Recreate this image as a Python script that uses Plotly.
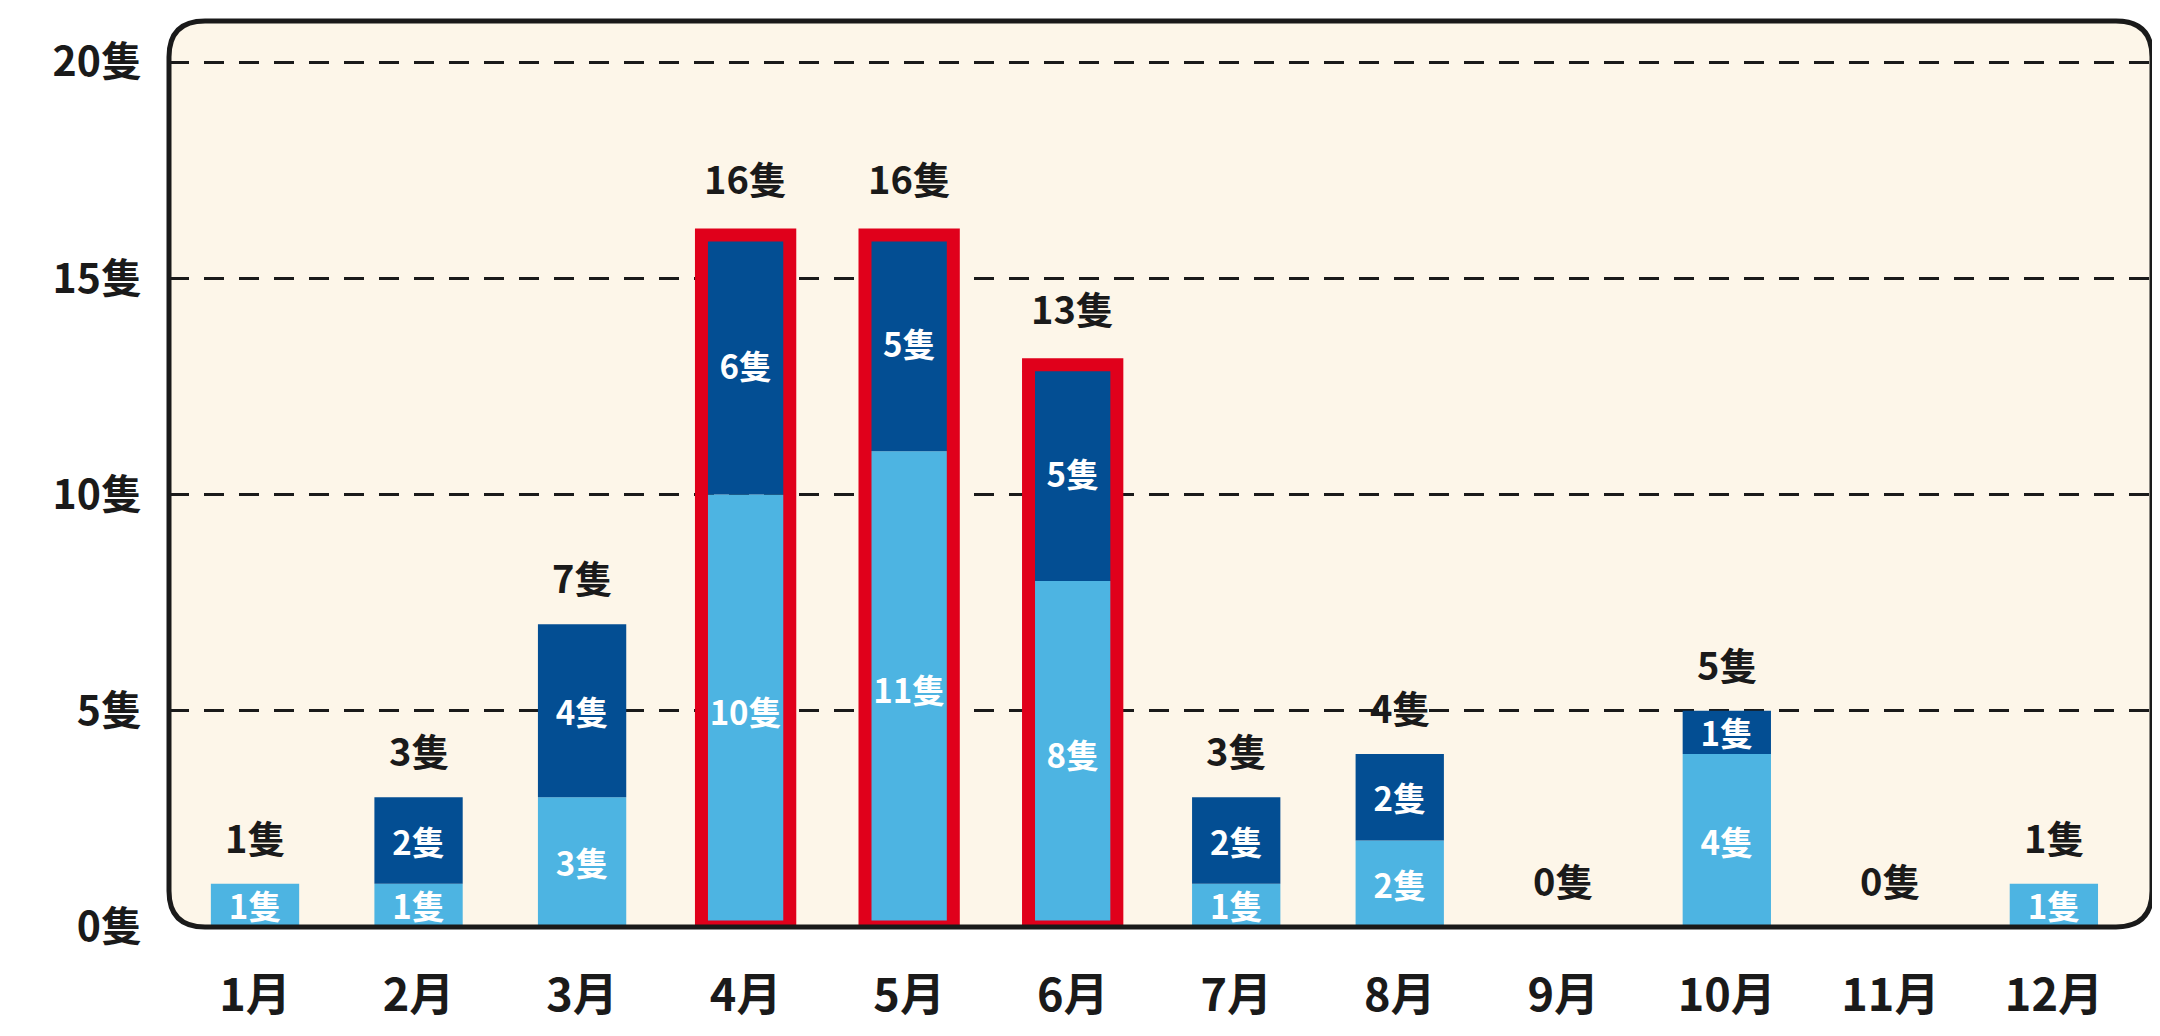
import plotly.graph_objects as go

# ---- data ----
months = ["1月", "2月", "3月", "4月", "5月", "6月", "7月", "8月", "9月", "10月", "11月", "12月"]
light_vals = [1, 1, 3, 10, 11, 8, 1, 2, 0, 4, 0, 1]
dark_vals = [0, 2, 4, 6, 5, 5, 2, 2, 0, 1, 0, 0]
highlight_months = ["4月", "5月", "6月"]
y_tick_vals = [0, 5, 10, 15, 20]
unit = "隻"

totals = [a + b for a, b in zip(light_vals, dark_vals)]
y_tick_text = [f"{v}{unit}" for v in y_tick_vals]

# ---- style ----
FONT = "Noto Sans CJK JP"
LIGHT = "#4DB4E2"
DARK = "#034E93"
RED = "#E0001B"
CREAM = "#FDF6E9"
# page body has an 8px default margin; size the figure to fit inside it
W, H = 2144, 1020
ML, MR, MT, MB = 161, 0, 13, 101

fig = go.Figure()

fig.add_trace(go.Bar(
    x=months, y=light_vals, base=[0] * len(months),
    marker=dict(color=LIGHT, line=dict(width=0)),
    text=[f"{v}{unit}" if v else "" for v in light_vals],
    textposition="inside", insidetextanchor="middle", constraintext="none",
    textfont=dict(family=FONT, size=33, color="white", weight="bold"),
    hoverinfo="skip",
))
fig.add_trace(go.Bar(
    x=months, y=dark_vals, base=light_vals,
    marker=dict(color=DARK, line=dict(width=0)),
    text=[f"{v}{unit}" if v else "" for v in dark_vals],
    textposition="inside", insidetextanchor="middle", constraintext="none",
    textfont=dict(family=FONT, size=33, color="white", weight="bold"),
    hoverinfo="skip",
))
# red outline for highlighted months
fig.add_trace(go.Bar(
    x=months, y=totals, base=[0] * len(months),
    marker=dict(color="rgba(0,0,0,0)",
                line=dict(color=RED, width=[13 if m in highlight_months else 0 for m in months])),
    hoverinfo="skip",
))

# total labels
for m, t in zip(months, totals):
    fig.add_annotation(
        x=m, y=t, text=f"{t}{unit}", showarrow=False,
        yanchor="bottom", yshift=28 if m in highlight_months else 18,
        font=dict(family=FONT, size=38, color="#1a1a1a", weight="bold"),
    )

# rounded frame
pw, ph = W - ML - MR, H - MT - MB
r = 36
rx, ry = r / pw, r / ph
path = (f"M {rx},0 L {1-rx},0 Q 1,0 1,{ry} L 1,{1-ry} Q 1,1 {1-rx},1 "
        f"L {rx},1 Q 0,1 0,{1-ry} L 0,{ry} Q 0,0 {rx},0 Z")
fig.add_shape(type="path", xref="paper", yref="paper", path=path,
              fillcolor=CREAM, line=dict(width=0), layer="below")
fig.add_shape(type="path", xref="paper", yref="paper", path=path,
              fillcolor="rgba(0,0,0,0)", line=dict(color="#1a1a1a", width=5), layer="above")

fig.update_layout(
    width=W, height=H,
    margin=dict(l=ML, r=MR, t=MT, b=MB, autoexpand=False),
    barmode="overlay", bargap=0.46,
    paper_bgcolor="white", plot_bgcolor="rgba(0,0,0,0)",
    showlegend=False,
    font=dict(family=FONT),
    xaxis=dict(
        range=[-0.526, 11.6], showgrid=False, zeroline=False, showline=False,
        ticks="", ticklabelstandoff=38, automargin=False,
        tickfont=dict(family=FONT, size=45, color="#1a1a1a", weight="bold"),
    ),
    yaxis=dict(
        range=[0, 20.95], tickvals=y_tick_vals, ticktext=y_tick_text,
        showgrid=True, gridcolor="#1a1a1a", gridwidth=3, griddash="20px,15px",
        zeroline=False, showline=False, ticks="", ticklabelstandoff=26, automargin=False,
        tickfont=dict(family=FONT, size=41, color="#1a1a1a", weight="bold"),
    ),
)

fig.write_html("out.html")
